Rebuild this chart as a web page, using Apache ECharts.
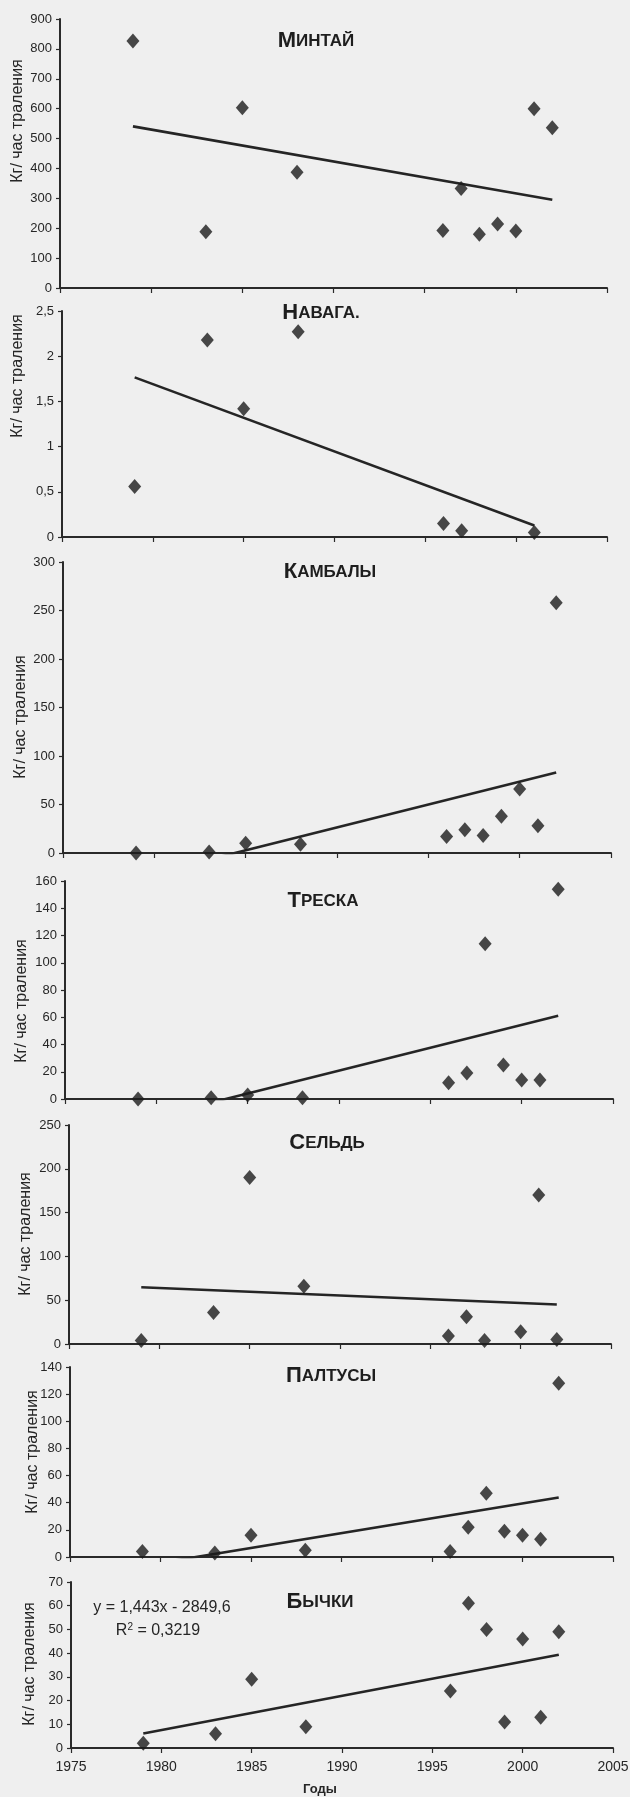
<!DOCTYPE html>
<html>
<head>
<meta charset="utf-8">
<script src="https://cdn.jsdelivr.net/npm/echarts@6/dist/echarts.min.js"></script>
<style>
  html, body { margin: 0; padding: 0; background: #efefef; }
  #chart { width: 630px; height: 1797px; }
</style>
</head>
<body>
<div id="chart"></div>
<script>
// Survey years
const years = [1979, 1983, 1985, 1988, 1996, 1997, 1998, 1999, 2000, 2001, 2002];
const navagaYears = [1979, 1983, 1985, 1988, 1996, 1997, 2001];
const seldYears = [1979, 1983, 1985, 1988, 1996, 1997, 1998, 2000, 2001, 2002];

// Catch per trawl hour, kg
const mintai  = [826, 188, 603, 387, 192, 333, 180, 214, 191, 600, 536];
const navaga  = [0.56, 2.18, 1.42, 2.27, 0.15, 0.07, 0.05];
const kambaly = [0, 1, 10, 9, 17, 24, 18, 38, 66, 28, 258];
const treska  = [0, 1, 3, 1, 12, 19, 114, 25, 14, 14, 154];
const seld    = [4, 36, 190, 66, 9, 31, 4, 14, 170, 5];
const paltusy = [4, 3, 16, 5, 4, 22, 47, 19, 16, 13, 128];
const bychki  = [2, 6, 29, 9, 24, 61, 50, 11, 46, 13, 49];

// Panel titles and value-axis ranges
const titles = ['Минтай', 'Навага.', 'Камбалы', 'Треска', 'Сельдь', 'Палтусы', 'Бычки'];
const yMax   = [900, 2.5, 300, 160, 250, 140, 70];
const yStep  = [100, 0.5, 50, 20, 50, 20, 10];

// Year axis
const yearMin = 1975, yearMax = 2005, yearStep = 5;

// Linear trend printed on the Бычки panel
const bychkiSlope = 1.443;
const bychkiIntercept = -2849.6;
const bychkiR2 = '0,3219';

const axisName = 'Кг/ час траления';
const yearsName = 'Годы';

const seriesX = [years, navagaYears, years, years, seldYears, years, years];
const seriesY = [mintai, navaga, kambaly, treska, seld, paltusy, bychki];

// Plot boxes (pixels) and text anchors for each panel
const layout = [
  { left: 60, right: 23, top: 19,   height: 269, title: [316, 41],   name: [18, 121] },
  { left: 62, right: 23, top: 311,  height: 226, title: [321, 313],  name: [18, 376] },
  { left: 63, right: 19, top: 562,  height: 291, title: [330, 572],  name: [21, 717] },
  { left: 65, right: 17, top: 881,  height: 218, title: [323, 901],  name: [22, 1001] },
  { left: 69, right: 19, top: 1125, height: 219, title: [327, 1143], name: [26, 1234] },
  { left: 70, right: 17, top: 1367, height: 190, title: [331, 1376], name: [33, 1452] },
  { left: 71, right: 17, top: 1582, height: 166, title: [320, 1602], name: [30, 1664] }
];

const FONT = "'Liberation Sans', Arial, sans-serif";
const INK = '#262626';

function leastSquares(xs, ys) {
  const n = xs.length;
  const mx = xs.reduce((a, b) => a + b, 0) / n;
  const my = ys.reduce((a, b) => a + b, 0) / n;
  let sxy = 0, sxx = 0;
  for (let i = 0; i < n; i++) {
    sxy += (xs[i] - mx) * (ys[i] - my);
    sxx += (xs[i] - mx) * (xs[i] - mx);
  }
  const slope = sxy / sxx;
  return { slope, intercept: my - slope * mx };
}

function commaNumber(v) {
  return String(v).replace('.', ',');
}

const grids = [], xAxes = [], yAxes = [], series = [], graphics = [];
const last = titles.length - 1;

titles.forEach((title, i) => {
  const L = layout[i];
  grids.push({ left: L.left, right: L.right, top: L.top, height: L.height, outerBoundsMode: 'none' });

  xAxes.push({
    type: 'value', gridIndex: i, min: yearMin, max: yearMax, interval: yearStep,
    axisLine: { show: true, onZero: false, lineStyle: { color: '#2a2a2a', width: 2 } },
    axisTick: { show: true, inside: false, length: 5, lineStyle: { color: '#2a2a2a', width: 1.2 } },
    axisLabel: { show: i === last, fontFamily: FONT, fontSize: 14, color: INK, margin: 12,
                 formatter: v => String(v) },
    splitLine: { show: false }
  });

  yAxes.push({
    type: 'value', gridIndex: i, min: 0, max: yMax[i], interval: yStep[i],
    axisLine: { show: true, lineStyle: { color: '#2a2a2a', width: 2 } },
    axisTick: { show: true, inside: false, length: 4, lineStyle: { color: '#2a2a2a', width: 1.2 } },
    axisLabel: { fontFamily: FONT, fontSize: 13, color: INK, margin: 8, formatter: commaNumber },
    splitLine: { show: false }
  });

  const xs = seriesX[i], ys = seriesY[i];
  series.push({
    type: 'scatter', xAxisIndex: i, yAxisIndex: i,
    symbol: 'diamond', symbolSize: [13, 15],
    itemStyle: { color: '#1c1c1c' },
    data: xs.map((x, k) => [x, ys[k]]),
    z: 3
  });

  const trend = i === last
    ? { slope: bychkiSlope, intercept: bychkiIntercept }
    : leastSquares(xs, ys);
  const x0 = Math.min(...xs), x1 = Math.max(...xs);
  series.push({
    type: 'line', xAxisIndex: i, yAxisIndex: i,
    symbol: 'none', silent: true, clip: true,
    lineStyle: { color: '#252525', width: 2.6 },
    data: [[x0, trend.slope * x0 + trend.intercept], [x1, trend.slope * x1 + trend.intercept]],
    z: 2
  });

  // Panel title in small caps: full-size first letter, smaller capitals after it
  const upper = title.toUpperCase();
  graphics.push({
    type: 'text', x: L.title[0], y: L.title[1],
    style: {
      text: '{a|' + upper[0] + '}{b|' + upper.slice(1) + '}',
      align: 'center', verticalAlign: 'middle',
      textAlign: 'center', textVerticalAlign: 'middle',
      rich: {
        a: { fontFamily: FONT, fontSize: 22, fontWeight: 'bold', fill: '#1e1e1e', color: '#1e1e1e' },
        b: { fontFamily: FONT, fontSize: 17, fontWeight: 'bold', fill: '#1e1e1e', color: '#1e1e1e' }
      }
    }
  });

  // Value axis caption
  graphics.push({
    type: 'text', x: L.name[0], y: L.name[1], rotation: Math.PI / 2,
    style: {
      text: axisName, fontFamily: FONT, fontSize: 16, fill: INK,
      align: 'center', verticalAlign: 'middle',
      textAlign: 'center', textVerticalAlign: 'middle'
    }
  });
});

// Trend equation and year caption on the bottom panel
graphics.push({
  type: 'text', x: 162, y: 1608,
  style: {
    text: 'y = ' + commaNumber(bychkiSlope) + 'x - ' + commaNumber(Math.abs(bychkiIntercept)),
    fontFamily: FONT, fontSize: 16, fill: INK,
    align: 'center', verticalAlign: 'middle', textAlign: 'center', textVerticalAlign: 'middle'
  }
});
graphics.push({
  type: 'text', x: 158, y: 1631,
  style: {
    text: 'R{s|2} = ' + bychkiR2,
    fontFamily: FONT, fontSize: 16, fill: INK,
    align: 'center', verticalAlign: 'middle', textAlign: 'center', textVerticalAlign: 'middle',
    rich: {
      s: { fontFamily: FONT, fontSize: 10, fill: INK, color: INK, verticalAlign: 'top', padding: [0, 0, 8, 0] }
    }
  }
});
graphics.push({
  type: 'text', x: 320, y: 1789,
  style: {
    text: yearsName, fontFamily: FONT, fontSize: 13, fontWeight: 'bold', fill: INK,
    align: 'center', verticalAlign: 'middle', textAlign: 'center', textVerticalAlign: 'middle'
  }
});

const chart = echarts.init(document.getElementById('chart'), null, { renderer: 'canvas' });
chart.setOption({
  backgroundColor: '#efefef',
  animation: false,
  grid: grids,
  xAxis: xAxes,
  yAxis: yAxes,
  series: series,
  graphic: { elements: graphics }
});
</script>
</body>
</html>
